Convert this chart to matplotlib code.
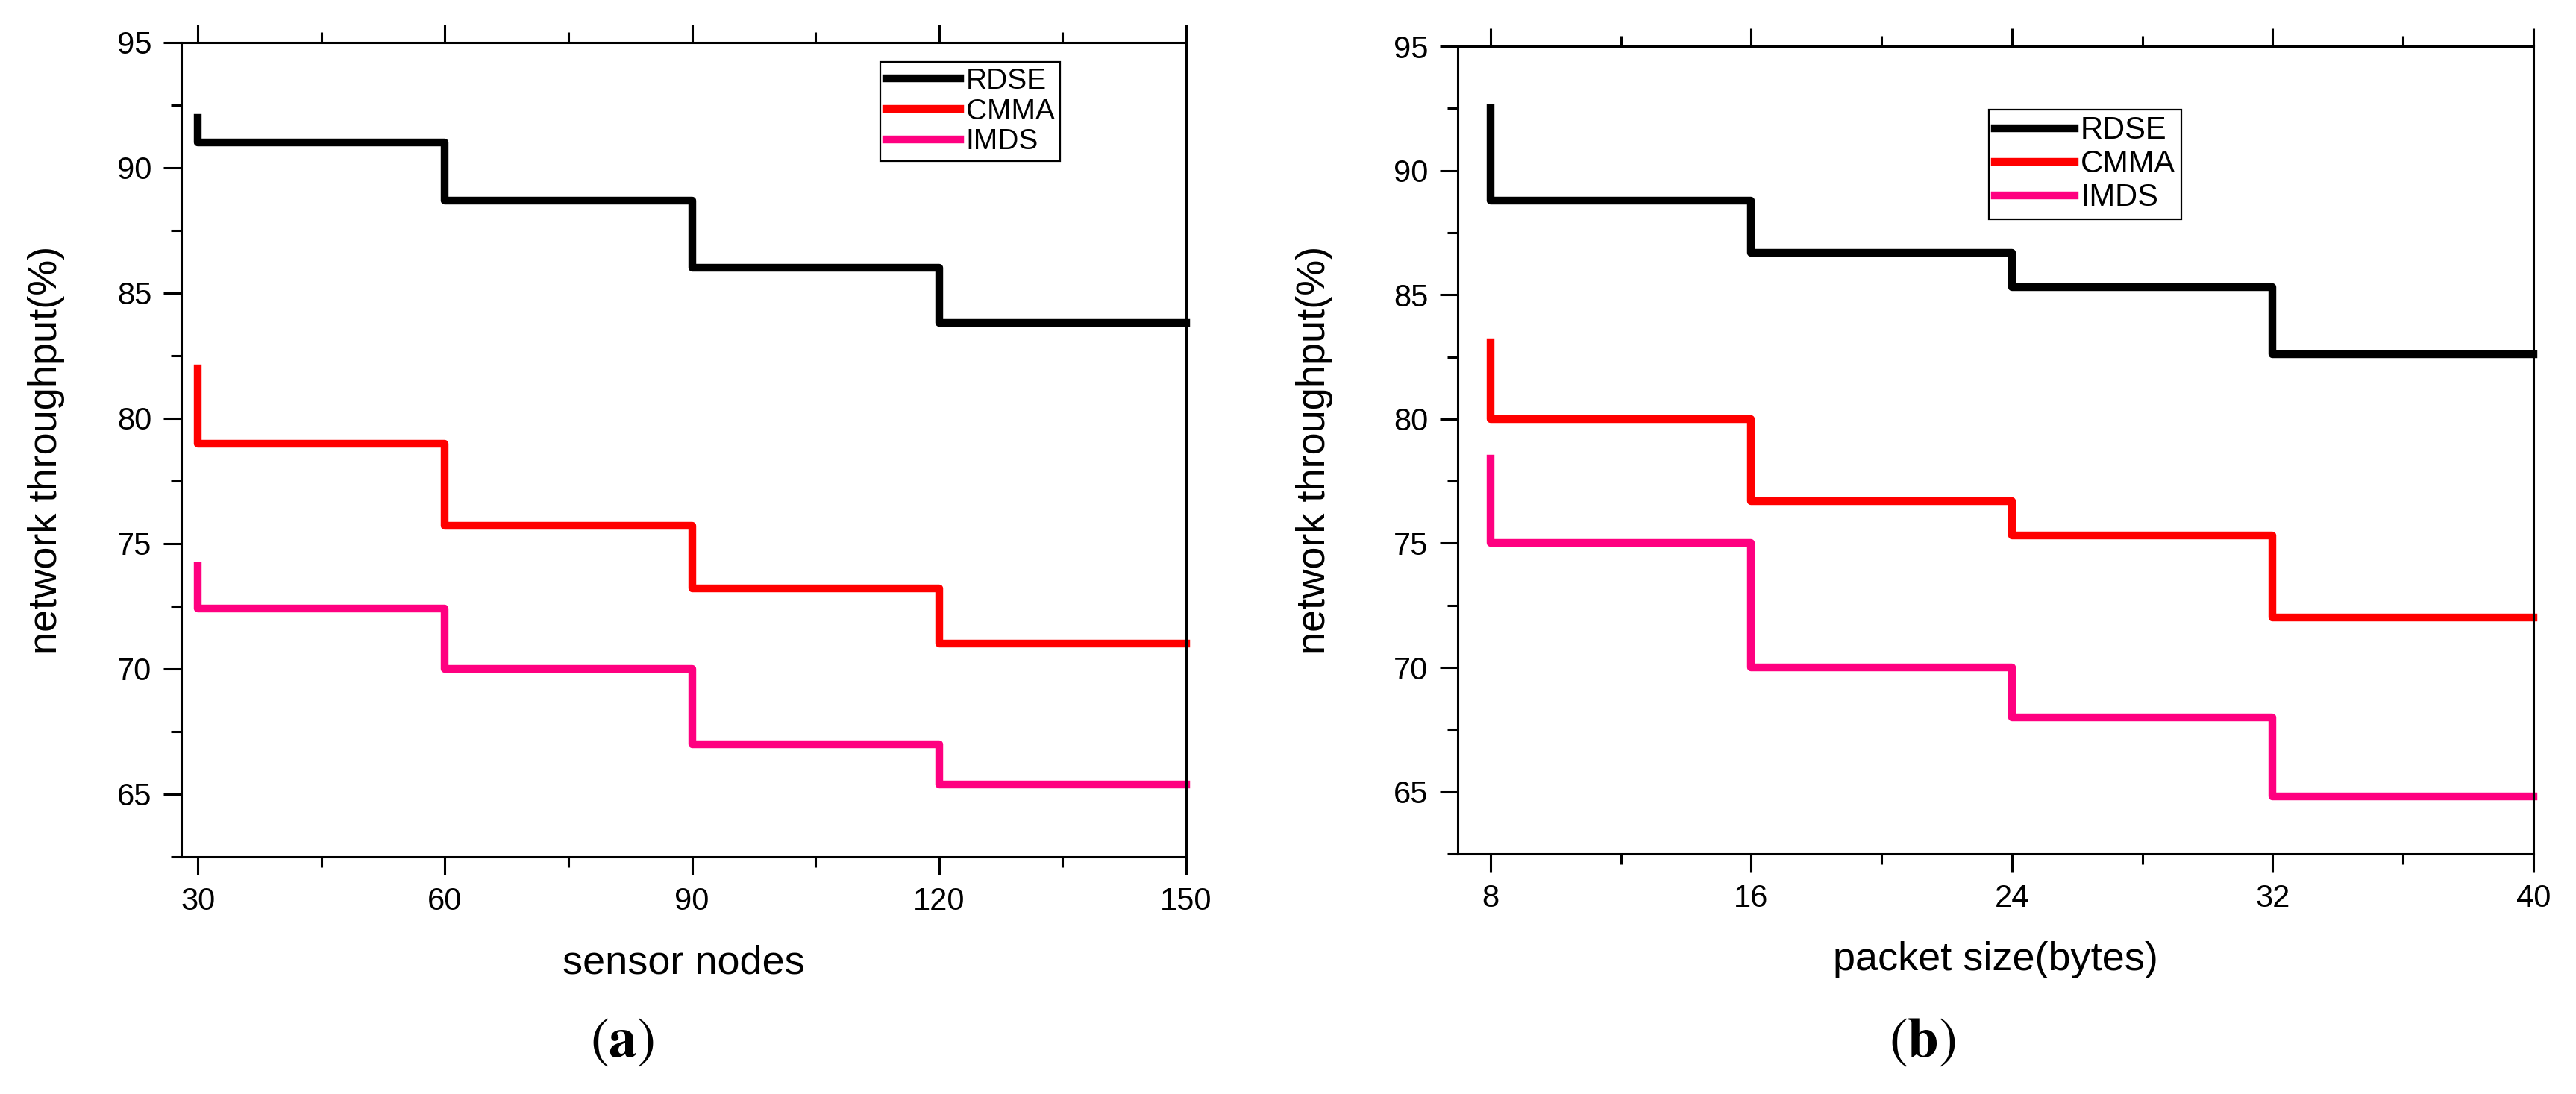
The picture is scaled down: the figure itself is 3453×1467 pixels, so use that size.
import matplotlib
matplotlib.use('Agg')
import matplotlib.pyplot as plt
from matplotlib.ticker import MultipleLocator

plt.rcParams['font.family'] = ['Liberation Sans', 'DejaVu Sans']
plt.rcParams['mathtext.fontset'] = 'stix'

# data (step plots, first point is the short rise at the left)
sensor_nodes = [30, 30, 60, 90, 120, 150]
rdse_a = [92.0, 91.0, 88.7, 86.0, 83.8, 83.8]
cmma_a = [82.0, 79.0, 75.7, 73.2, 71.0, 71.0]
imds_a = [74.1, 72.4, 70.0, 67.0, 65.4, 65.4]

packet_size = [8, 8, 16, 24, 32, 40]
rdse_b = [92.5, 88.8, 86.7, 85.3, 82.6, 82.6]
cmma_b = [83.1, 80.0, 76.7, 75.3, 72.0, 72.0]
imds_b = [78.4, 75.0, 70.0, 68.0, 64.8, 64.8]

labels = ['RDSE', 'CMMA', 'IMDS']
colors = ['#000000', '#FF0000', '#FF0080']
x_ticks_a = [30, 60, 90, 120, 150]
x_ticks_b = [8, 16, 24, 32, 40]
y_ticks = [65, 70, 75, 80, 85, 90, 95]

fig = plt.figure(figsize=(34.53, 14.67), dpi=100)
ax1 = fig.add_axes([0.0704, 0.2168, 0.3901, 0.7444])
ax2 = fig.add_axes([0.5659, 0.2195, 0.4176, 0.7382])


def setup(ax, xlim, xticks, xminor, xlabel):
    ax.set_xlim(*xlim)
    ax.set_ylim(62.5, 95)
    ax.set_xticks(xticks)
    ax.set_yticks(y_ticks)
    ax.xaxis.set_minor_locator(MultipleLocator(xminor))
    ax.yaxis.set_minor_locator(MultipleLocator(2.5))
    ax.tick_params(which='both', direction='out', top=True, right=False,
                   width=2.2, labelsize=30, pad=11.5)
    ax.tick_params(which='major', length=17)
    ax.tick_params(which='minor', length=10)
    for s in ax.spines.values():
        s.set_linewidth(2.2)
    ax.set_xlabel(xlabel, fontsize=39)
    ax.set_ylabel('network throughput(%)', fontsize=39)
    ax.xaxis.set_label_coords(0.5, -0.108)
    ax.yaxis.set_label_coords(-0.116, 0.5)


series_a = [rdse_a, cmma_a, imds_a]
series_b = [rdse_b, cmma_b, imds_b]

for ys, lab, c in zip(series_a, labels, colors):
    ax1.plot(sensor_nodes, ys, drawstyle='steps-post', color=c, lw=7.5,
             label=lab, clip_on=False)
for ys, lab, c in zip(series_b, labels, colors):
    ax2.plot(packet_size, ys, drawstyle='steps-post', color=c, lw=7.5,
             label=lab, clip_on=False)

setup(ax1, (28, 150), x_ticks_a, 15, 'sensor nodes')
setup(ax2, (7, 40), x_ticks_b, 4, 'packet size(bytes)')

for ax, anchor, fs in [(ax1, (0.6956, 0.976), 28), (ax2, (0.4938, 0.9215), 30)]:
    leg = ax.legend(loc='upper left', bbox_to_anchor=anchor, fontsize=fs,
                    frameon=True, fancybox=False, edgecolor='black',
                    framealpha=1, borderpad=0.2, labelspacing=0.12,
                    handlelength=2.55, handletextpad=0.2, borderaxespad=0)
    leg.get_frame().set_linewidth(1.6)

fig.text(0.2415, 0.0477, r'$(\mathbf{a})$', fontsize=54, ha='center', va='center')
fig.text(0.7463, 0.0477, r'$(\mathbf{b})$', fontsize=54, ha='center', va='center')

fig.savefig('out.png', dpi=100)
